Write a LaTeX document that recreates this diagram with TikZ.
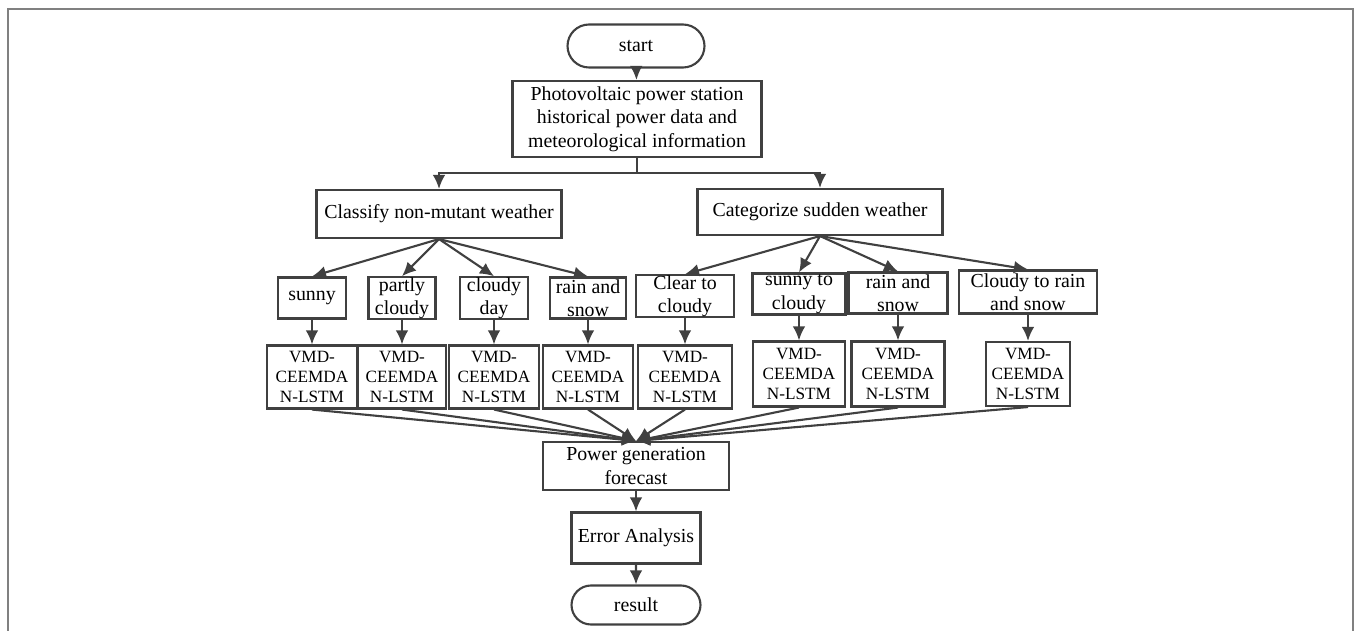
\documentclass[tikz,border=0pt]{standalone}
\usepackage{fontspec}
\setmainfont{Liberation Serif}
\usepackage{tikz}
\usetikzlibrary{calc,arrows.meta,shapes.misc}
\definecolor{ln}{HTML}{404040}
\definecolor{fr}{HTML}{808080}
\tikzset{
  bx/.style={draw=ln,line width=1.2pt,rectangle,align=center,inner sep=0pt,font=\fontsize{11.3}{13.3}\selectfont},
  term/.style={bx,rounded rectangle},
  wx/.style={bx,minimum height=0.82cm},
  vmd/.style={bx,minimum height=1.26cm,font=\fontsize{9.8}{11.4}\selectfont},
  ar/.style={draw=ln,line width=1.2pt,-{Latex[length=8pt,width=7.2pt]}},
}
\begin{document}
\begin{tikzpicture}[x=0.02cm,y=-0.02cm]
              \useasboundingbox(0,0)rectangle(1356,631);
              \draw[fr,line width=1.1pt](8,631)--(8,9)--(1353,9)--(1353,631);
              \node[term,minimum width=2.74cm,minimum height=0.86cm](st)at(636,46){start};
              \node[bx,minimum width=4.98cm,minimum height=1.52cm](pv)at(637,119){Photovoltaic power station\\historical power data and\\meteorological information};
              \node[bx,minimum width=4.9cm,minimum height=0.96cm](nm)at(439,214){Classify non-mutant weather};
              \node[bx,minimum width=4.9cm,minimum height=0.92cm](sw)at(820,212){Categorize sudden weather};
              \node[wx,minimum width=1.36cm](w1)at(312,298){sunny};
              \node[wx,minimum width=1.34cm](w2)at(402,298){partly\\cloudy};
              \node[wx,minimum width=1.36cm](w3)at(494,298){cloudy\\day};
              \node[wx,minimum width=1.52cm](w4)at(588,298){rain and\\snow};
              \node[wx,minimum width=1.96cm](s1)at(685,296){Clear to\\cloudy};
              \node[wx,minimum width=1.86cm](s2)at(799,294){sunny to\\cloudy};
              \node[wx,minimum width=1.98cm](s3)at(898,293){rain and\\snow};
              \node[wx,minimum width=2.76cm,minimum height=0.86cm](s4)at(1028,292){Cloudy to rain\\and snow};
              \node[vmd,minimum width=1.8cm](v1)at(312,377){VMD-\\CEEMDA\\N-LSTM};
              \node[vmd,minimum width=1.76cm](v2)at(402,377){VMD-\\CEEMDA\\N-LSTM};
              \node[vmd,minimum width=1.8cm](v3)at(494,377){VMD-\\CEEMDA\\N-LSTM};
              \node[vmd,minimum width=1.8cm](v4)at(588,377){VMD-\\CEEMDA\\N-LSTM};
              \node[vmd,minimum width=1.88cm](v5)at(685,377){VMD-\\CEEMDA\\N-LSTM};
              \node[vmd,minimum width=1.84cm,minimum height=1.3cm](v6)at(799,374){VMD-\\CEEMDA\\N-LSTM};
              \node[vmd,minimum width=1.86cm,minimum height=1.3cm](v7)at(898,374){VMD-\\CEEMDA\\N-LSTM};
              \node[vmd,minimum width=1.68cm,minimum height=1.28cm](v8)at(1028,374){VMD-\\CEEMDA\\N-LSTM};
              \node[bx,minimum width=3.72cm,minimum height=0.96cm](pg)at(636,466){Power generation\\forecast};
              \node[bx,minimum width=2.58cm,minimum height=1.02cm](ea)at(636,538){Error Analysis};
              \node[term,minimum width=2.58cm,minimum height=0.78cm](re)at(636,605){result};
              \coordinate(j)at(637,173);
              \draw[ar](st)--(pv);
              \draw[ln,line width=1.2pt](pv.south)--(j);
              \draw[ar](j)-|(nm.north);
              \draw[ar](j)-|(sw.north);
              \draw[ar](nm.south)--(w1.north);
              \draw[ar](nm.south)--(w2.north);
              \draw[ar](nm.south)--(w3.north);
              \draw[ar](nm.south)--(w4.north);
              \draw[ar](sw.south)--(s1.north);
              \draw[ar](sw.south)--(s2.north);
              \draw[ar](sw.south)--(s3.north);
              \draw[ar](sw.south)--(s4.north);
              \draw[ar](w1)--(v1);
              \draw[ar](w2)--(v2);
              \draw[ar](w3)--(v3);
              \draw[ar](w4)--(v4);
              \draw[ar](s1)--(v5);
              \draw[ar](s2)--(v6);
              \draw[ar](s3)--(v7);
              \draw[ar](s4)--(v8);
              \draw[ar](v1.south)--(pg.north);
              \draw[ar](v2.south)--(pg.north);
              \draw[ar](v3.south)--(pg.north);
              \draw[ar](v4.south)--(pg.north);
              \draw[ar](v5.south)--(pg.north);
              \draw[ar](v6.south)--(pg.north);
              \draw[ar](v7.south)--(pg.north);
              \draw[ar](v8.south)--(pg.north);
              \draw[ar](pg)--(ea);
              \draw[ar](ea)--(re);
            \end{tikzpicture}
\end{document}
